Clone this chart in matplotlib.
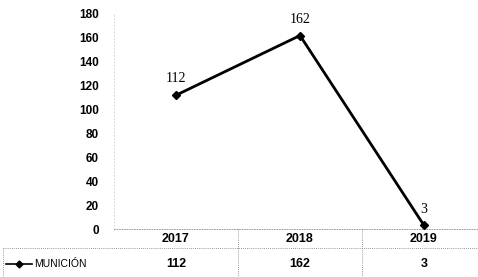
import matplotlib.pyplot as plt
from matplotlib.lines import Line2D

# data
years = ["2017", "2018", "2019"]
municion = [112, 162, 3]
series_name = "MUNICIÓN"
y_ticks = [0, 20, 40, 60, 80, 100, 120, 140, 160, 180]

W, H = 478, 277


def fx(px):
    return px / W


def fy(py):
    return 1 - py / H


fig = plt.figure(figsize=(W / 100, H / 100), dpi=100)

# plot area: value 0 at y=229px, 180 at y=14px; categories 124px wide
ax = fig.add_axes([fx(114), fy(229), fx(486) - fx(114), fy(14) - fy(229)])
x = list(range(len(years)))
ax.plot(x, municion, color="black", lw=2, marker="D", ms=4.5,
        markerfacecolor="black", zorder=3)
for xi, v in zip(x, municion):
    ax.annotate(str(v), (xi, v), xytext=(0, 7), textcoords="offset points",
                ha="center", va="bottom", fontsize=10, family="Liberation Serif")

ax.set_xlim(-0.5, len(years) - 0.5)
ax.set_ylim(0, 180)
ax.set_yticks(y_ticks)
ax.set_yticklabels([str(t) for t in y_ticks], fontsize=8.5, fontweight="bold",
                   family="Liberation Sans")
ax.tick_params(axis="y", length=0, pad=11)
ax.set_xticks([])
for side in ["top", "right"]:
    ax.spines[side].set_visible(False)
ax.spines["left"].set(color="#cccccc", lw=0.6, linestyle=(0, (1, 3)))
ax.spines["bottom"].set(color="#888888", lw=0.6, linestyle=(0, (1, 2)))
ax.patch.set_alpha(0)

# data table under the chart
dot = dict(color="#777777", lw=0.6, linestyle=(0, (1, 1.5)))
col_w = 124
for i, (yr, v) in enumerate(zip(years, municion)):
    cx = 114 + col_w * (i + 0.5)
    fig.text(fx(cx), fy(239), yr, ha="center", va="center", fontsize=9,
             fontweight="bold", family="Liberation Sans")
    fig.text(fx(cx), fy(264), str(v), ha="center", va="center", fontsize=9,
             fontweight="bold", family="Liberation Sans")
    if i > 0:
        bx = 114 + col_w * i
        fig.add_artist(Line2D([fx(bx), fx(bx)], [fy(229), fy(277)],
                              transform=fig.transFigure, **dot))
fig.add_artist(Line2D([fx(3), fx(478)], [fy(248), fy(248)],
                      transform=fig.transFigure, **dot))
fig.add_artist(Line2D([fx(3), fx(3)], [fy(248), fy(277)],
                      transform=fig.transFigure, **dot))

# legend key inside table
fig.add_artist(Line2D([fx(6), fx(32)], [fy(264), fy(264)], color="black", lw=1.2,
                      transform=fig.transFigure))
fig.add_artist(Line2D([fx(19)], [fy(264)], color="black", marker="D", ms=3.5,
                      transform=fig.transFigure))
fig.text(fx(34), fy(264), series_name, ha="left", va="center", fontsize=7.5,
         family="Liberation Sans")

fig.savefig("out.png", dpi=100)
